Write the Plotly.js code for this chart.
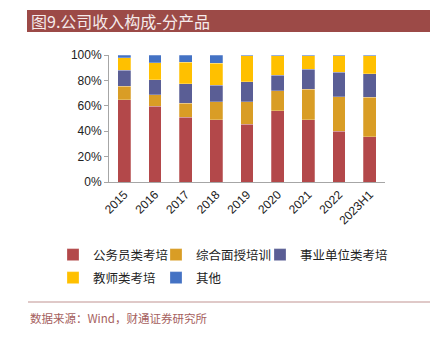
<!DOCTYPE html>
<html>
<head>
<meta charset="utf-8">
<script src="https://cdn.plot.ly/plotly-3.0.1.min.js"></script>
<style>html,body{margin:0;padding:0;background:#fff;}#chart{width:435px;height:338px;}</style>
</head>
<body>
<div id="chart"></div>
<script>
const categories = ['2015','2016','2017','2018','2019','2020','2021','2022','2023H1'];
const seriesNames = ['公务员类考培','综合面授培训','事业单位类考培','教师类考培','其他'];
const civilServant = [64.8, 59.5, 51.1, 49.2, 45.5, 56.3, 49.0, 40.0, 35.7];
const interview    = [10.6, 9.3, 11.1, 13.8, 17.5, 15.7, 24.0, 27.2, 31.0];
const institution  = [12.6, 11.9, 15.2, 13.0, 15.9, 12.1, 15.7, 19.1, 18.5];
const teacher      = [9.9, 13.3, 16.7, 17.4, 20.6, 15.4, 10.8, 13.2, 14.3];
const other        = [2.1, 6.0, 5.9, 6.6, 0.5, 0.5, 0.5, 0.5, 0.5];
const tickVals = [0, 20, 40, 60, 80, 100];

const colors = ['#b3484a', '#d99d25', '#5a5e95', '#ffc000', '#4472c4'];
const values = [civilServant, interview, institution, teacher, other];
const legendIds = ['legend', 'legend2', 'legend3', 'legend4', 'legend5'];

const traces = values.map((v, i) => ({
  type: 'bar',
  name: seriesNames[i],
  x: categories,
  y: v,
  legend: legendIds[i],
  marker: {color: colors[i], line: {color: 'rgba(255,255,255,0.5)', width: 0.5}},
  hoverinfo: 'x+y+name'
}));

const PW = 276, PH = 127, PL = 109, PB = 182;
const px = x => (x - PL) / PW;
const py = y => (PB - y) / PH;

const serif = '"Noto Sans CJK SC", sans-serif';
// legend text start positions (px) and row centres
const legendPos = [[91, 255], [194, 255], [298, 255], [91, 278], [194, 278]];

const layout = {
  width: 435, height: 338,
  margin: {l: 109, r: 50, t: 55, b: 156},
  barmode: 'stack',
  bargap: 0.58,
  paper_bgcolor: '#fff', plot_bgcolor: '#fff',
  showlegend: true,
  xaxis: {
    type: 'category', tickangle: -45,
    showline: true, linecolor: '#a6a6a6', linewidth: 1,
    ticks: '', showgrid: false,
    tickfont: {family: 'Arial, "Liberation Sans", sans-serif', size: 12, color: '#222'}
  },
  yaxis: {
    range: [0, 100], tickvals: tickVals, ticktext: tickVals.map(t => t + '%'),
    showline: true, linecolor: '#a6a6a6', linewidth: 1,
    ticks: 'outside', ticklen: 4, tickcolor: '#a6a6a6',
    showgrid: false, zeroline: false,
    tickfont: {family: 'Arial, "Liberation Sans", sans-serif', size: 12, color: '#222'}
  },
  shapes: [
    {type: 'rect', xref: 'paper', yref: 'paper', x0: px(27), x1: px(430), y0: py(10), y1: py(32),
     fillcolor: '#9c4a47', line: {width: 0}, layer: 'below'},
    {type: 'line', xref: 'paper', yref: 'paper', x0: px(28), x1: px(430), y0: py(302), y1: py(302),
     line: {color: '#c09391', width: 1}}
  ],
  annotations: [
    {text: '图9.公司收入构成-分产品', xref: 'paper', yref: 'paper', x: px(29), y: py(21),
     xanchor: 'left', yanchor: 'middle', showarrow: false,
     font: {family: serif, size: 16, color: '#f5ebeb'}},
    {text: '数据来源：Wind，财通证券研究所', xref: 'paper', yref: 'paper', x: px(28), y: py(318),
     xanchor: 'left', yanchor: 'middle', showarrow: false,
     font: {family: serif, size: 11.5, color: '#a5605d'}}
  ]
};

legendIds.forEach((id, i) => {
  layout[id] = {
    orientation: 'h', xref: 'container', yref: 'container',
    x: (legendPos[i][0] - 38) / 435, xanchor: 'left',
    y: 1 - legendPos[i][1] / 338, yanchor: 'middle',
    font: {family: serif, size: 12.5, color: '#222'},
    bgcolor: 'rgba(0,0,0,0)', borderwidth: 0
  };
});

Plotly.newPlot('chart', traces, layout, {displayModeBar: false, staticPlot: true});
</script>
</body>
</html>
